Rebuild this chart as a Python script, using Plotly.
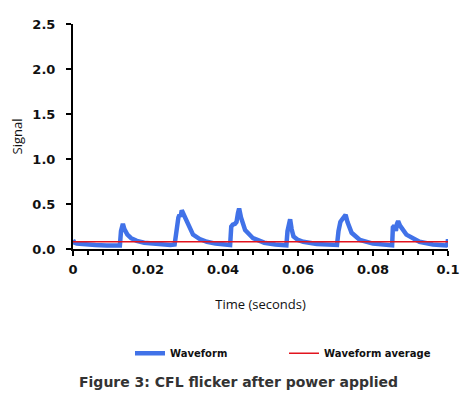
import plotly.graph_objects as go

time_s = [0.0, 0.0004, 0.001, 0.003, 0.006, 0.009, 0.0125, 0.0128, 0.0131, 0.0133, 0.0137, 0.0145, 0.0155, 0.017, 0.019, 0.022, 0.026,
          0.0271, 0.0276, 0.0281, 0.0284, 0.0287, 0.029, 0.0296, 0.0305, 0.032, 0.0338, 0.0357, 0.038, 0.041, 0.0419,
          0.0422, 0.0426, 0.0432, 0.0436, 0.0440, 0.0443, 0.0448, 0.0459, 0.048, 0.051, 0.054, 0.0569,
          0.0572, 0.0576, 0.0579, 0.0583, 0.0588, 0.060, 0.0614, 0.065, 0.0704,
          0.0708, 0.0713, 0.0718, 0.0722, 0.0727, 0.0732, 0.0743, 0.0765, 0.080, 0.0851,
          0.0853, 0.0857, 0.0861, 0.0864, 0.0867, 0.0872, 0.0889, 0.0924, 0.096, 0.0995, 0.0999, 0.1]
signal = [0.1, 0.07, 0.06, 0.05, 0.045, 0.04, 0.04, 0.2, 0.27, 0.28, 0.22, 0.16, 0.12, 0.09, 0.07, 0.055, 0.045,
          0.05, 0.25, 0.35, 0.38, 0.36, 0.43, 0.38, 0.29, 0.16, 0.11, 0.08, 0.06, 0.05, 0.045,
          0.25, 0.27, 0.28, 0.3, 0.4, 0.45, 0.35, 0.21, 0.12, 0.07, 0.05, 0.04,
          0.2, 0.31, 0.33, 0.22, 0.14, 0.1, 0.08, 0.055, 0.045,
          0.2, 0.3, 0.33, 0.36, 0.38, 0.3, 0.18, 0.1, 0.06, 0.04,
          0.24, 0.26, 0.2, 0.28, 0.31, 0.26, 0.16, 0.08, 0.05, 0.04, 0.06, 0.11]
average_value = 0.08

x_tickvals = [0, 0.02, 0.04, 0.06, 0.08, 0.1]
x_ticktext = ["0", "0.02", "0.04", "0.06", "0.08", "0.1"]
y_tickvals = [0, 0.5, 1.0, 1.5, 2.0, 2.5]
y_ticktext = ["0.0", "0.5", "1.0", "1.5", "2.0", "2.5"]

fig = go.Figure()
fig.add_trace(go.Scatter(x=time_s, y=signal, mode="lines", name="Waveform",
                         line=dict(color="#4172e8", width=4.5)))
fig.add_trace(go.Scatter(x=[0, 0.1], y=[average_value, average_value], mode="lines",
                         name="Waveform average", line=dict(color="#e2141e", width=1.5)))

tick_font = dict(family="DejaVu Sans", size=13, color="#111111", weight="bold")
fig.update_layout(
    width=476, height=398,
    margin=dict(l=65, r=36, t=16, b=157, autoexpand=False),
    paper_bgcolor="white", plot_bgcolor="white",
    showlegend=True,
    legend=dict(orientation="h", x=(130 - 73) / 375, xanchor="left", y=-0.463, yanchor="middle",
                font=dict(family="DejaVu Sans", size=10, color="#111111", weight="bold"),
                entrywidth=109, entrywidthmode="pixels", traceorder="normal"),
    xaxis=dict(range=[0, 0.1], tickvals=x_tickvals, ticktext=x_ticktext, automargin=False,
               showgrid=False, zeroline=False, showline=True, linecolor="black", linewidth=2,
               ticks="outside", ticklen=5, tickwidth=2, tickcolor="black", ticklabelstandoff=2,
               minor=dict(dtick=0.004, ticks="outside", ticklen=4, tickwidth=2, tickcolor="black"),
               tickfont=tick_font,
               title=dict(text="Time (seconds)", font=dict(family="Open Sans", size=13, color="#111111"),
                          standoff=24)),
    yaxis=dict(range=[0, 2.5], tickvals=y_tickvals, ticktext=y_ticktext, automargin=False,
               showgrid=False, zeroline=False, showline=True, linecolor="black", linewidth=2,
               ticks="outside", ticklen=5, tickwidth=2, tickcolor="black", ticklabelstandoff=8,
               tickfont=tick_font,
               title=dict(text="Signal", font=dict(family="Open Sans", size=13, color="#111111"),
                          standoff=14)),
    annotations=[dict(text="<b>Figure 3: CFL flicker after power applied</b>", xref="paper", yref="paper",
                      x=(238 - 73) / 375, y=-0.59, xanchor="center", yanchor="middle", showarrow=False,
                      font=dict(family="DejaVu Sans", size=14, color="#333333"))],
)
fig.write_html("out.html")
